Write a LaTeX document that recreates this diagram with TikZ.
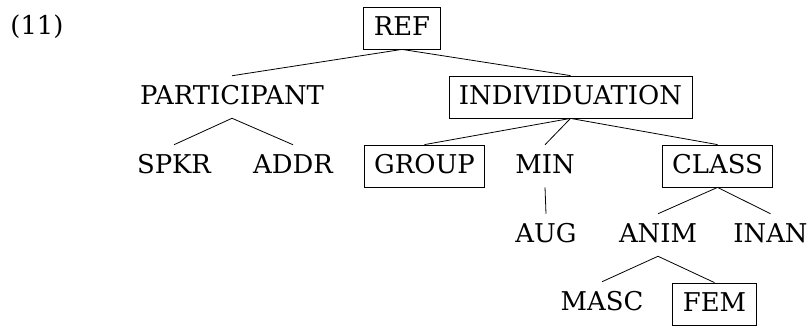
\documentclass[tikz,border=0pt]{standalone}
\usepackage{fontspec}
\setmainfont{DejaVu Serif}
\begin{document}
\begin{tikzpicture}[x=0.75pt,y=-0.75pt,
  feat/.style={inner xsep=7.5pt, inner ysep=0pt, minimum height=31.5pt,
    text height=14pt, text depth=3.5pt,
    font=\fontsize{19.4}{22}\selectfont},
  boxed/.style={feat, draw, line width=0.6pt},
  branch/.style={line width=0.6pt}]
\useasboundingbox (0,0) rectangle (809,326);
% example number
\node[feat, inner xsep=0pt] (num) at (37,27) {(11)};
% row 1
\node[boxed] (ref) at (402,28) {REF};
% row 2
\node[feat] (part) at (232,97) {PARTICIPANT};
\node[boxed] (indiv) at (570.5,97) {INDIVIDUATION};
% row 3
\node[feat] (spkr) at (174,166) {SPKR};
\node[feat] (addr) at (293,166) {ADDR};
\node[boxed] (group) at (424.5,166) {GROUP};
\node[feat] (min) at (545,166) {MIN};
\node[boxed] (class) at (717.5,166) {CLASS};
% row 4
\node[feat] (aug) at (546,235) {AUG};
\node[feat] (anim) at (658,235) {ANIM};
\node[feat] (inan) at (770.5,235) {INAN};
% row 5
\node[feat] (masc) at (602,303) {MASC};
\node[boxed] (fem) at (714.5,304) {FEM};
% branches
\draw[branch] (ref.south) -- (part.north);
\draw[branch] (ref.south) -- (indiv.north);
\draw[branch] (part.south) -- (spkr.north);
\draw[branch] (part.south) -- (addr.north);
\draw[branch] (indiv.south) -- (group.north);
\draw[branch] (indiv.south) -- (min.north);
\draw[branch] (indiv.south) -- (class.north);
\draw[branch] (min.south) -- (aug.north);
\draw[branch] (class.south) -- (anim.north);
\draw[branch] (class.south) -- (inan.north);
\draw[branch] (anim.south) -- (masc.north);
\draw[branch] (anim.south) -- (fem.north);
\end{tikzpicture}
\end{document}
